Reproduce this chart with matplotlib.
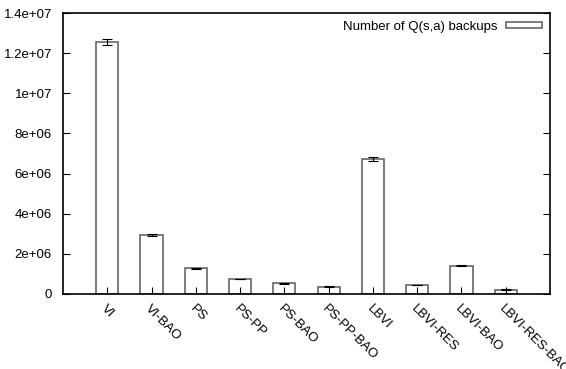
import matplotlib.pyplot as plt
import numpy as np

plt.rcParams["font.family"] = ["Liberation Sans", "DejaVu Sans"]

methods = ["VI", "VI-BAO", "PS", "PS-PP", "PS-BAO", "PS-PP-BAO",
           "LBVI", "LBVI-RES", "LBVI-BAO", "LBVI-RES-BAO"]
backups = [1.255e7, 2.92e6, 1.28e6, 7.5e5, 5.3e5, 3.7e5,
           6.75e6, 4.4e5, 1.41e6, 2.2e5]
errors = [1.3e5, 5e4, 4e4, 2e4, 2e4, 1.5e4, 1e5, 1.5e4, 2e4, 1.5e4]

fig = plt.figure(figsize=(5.66, 3.69), dpi=100)
ax = fig.add_axes([63 / 566, 1 - 294 / 369, (550 - 63) / 566, (294 - 13) / 369])

x = np.arange(len(methods))
ax.bar(x, backups, width=0.5, color="white", edgecolor="#666666",
       linewidth=1.2, label="Number of Q(s,a) backups")
ax.errorbar(x, backups, yerr=errors, fmt="none", ecolor="black",
            elinewidth=0.8, capsize=3.5, capthick=0.8)

ax.set_xlim(-1, 10)
ax.set_ylim(0, 1.4e7)
ax.set_yticks(np.arange(0, 1.41e7, 2e6))
ax.set_yticklabels(["0", "2e+06", "4e+06", "6e+06", "8e+06", "1e+07",
                    "1.2e+07", "1.4e+07"])
ax.set_xticks(x)
ax.set_xticklabels(methods, rotation=-45, ha="left", va="top",
                   rotation_mode="anchor")
ax.tick_params(axis="y", direction="in", right=True, length=5, width=0.8,
               labelsize=9.5, pad=8)
ax.tick_params(axis="x", direction="in", top=False, length=5, width=0.8,
               labelsize=9.5, pad=6)
for s in ax.spines.values():
    s.set_linewidth(1.2)

leg = ax.legend(loc="upper right", frameon=False, fontsize=9.5,
                handlelength=2.7, handleheight=0.35, handletextpad=0.7,
                markerfirst=False, borderaxespad=0.2)

fig.savefig("out.png", dpi=100)
